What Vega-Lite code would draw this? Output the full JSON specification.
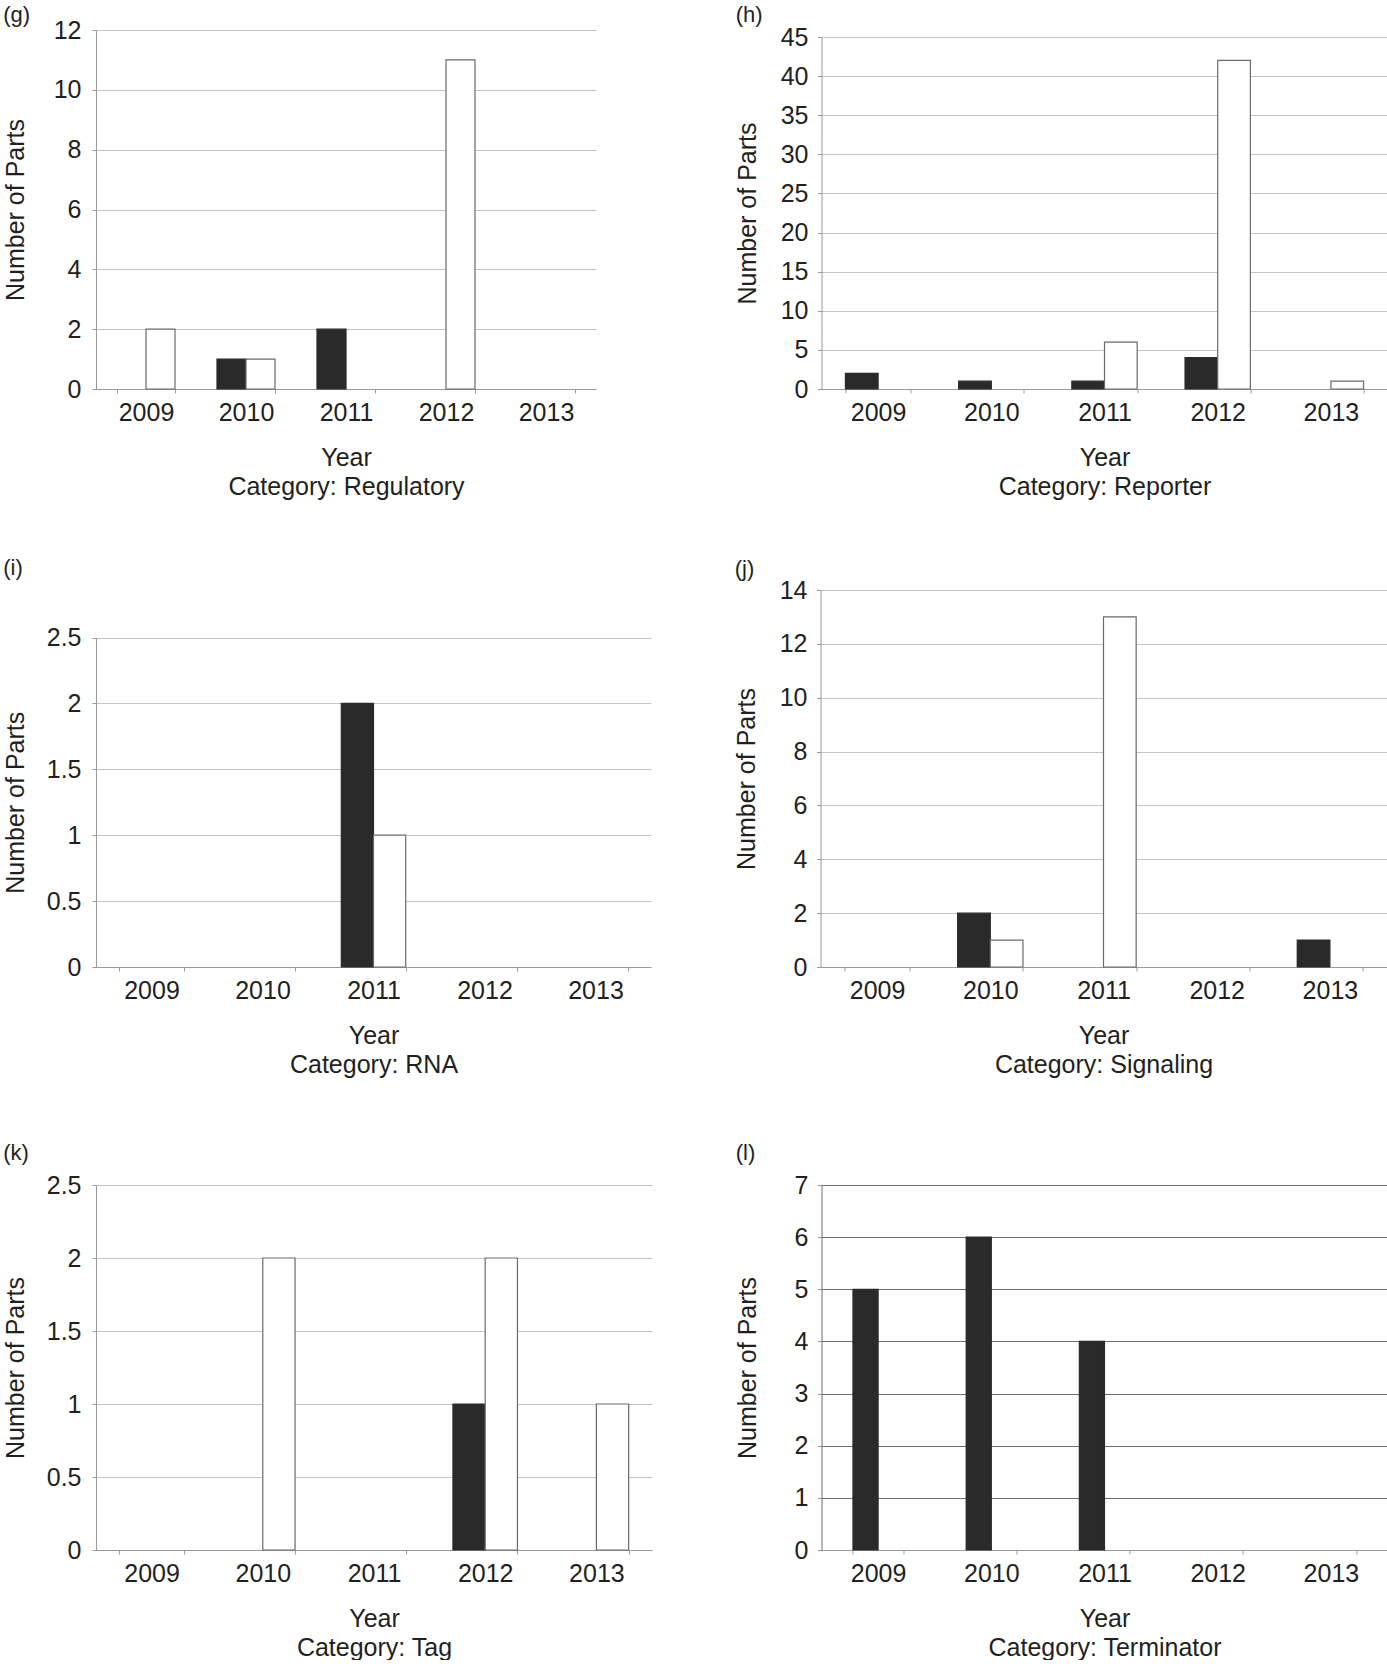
{
  "$schema": "https://vega.github.io/schema/vega-lite/v6.json",
  "description": "Number of parts per year by category, panels (g)-(l)",
  "padding": {"left": 3, "top": 3, "right": 0, "bottom": 0},
  "background": "white",
  "data": {
    "values": [
      {"category": "Regulatory", "year": "2009", "series": "Series 2", "count": 2},
      {"category": "Regulatory", "year": "2010", "series": "Series 1", "count": 1},
      {"category": "Regulatory", "year": "2010", "series": "Series 2", "count": 1},
      {"category": "Regulatory", "year": "2011", "series": "Series 1", "count": 2},
      {"category": "Regulatory", "year": "2012", "series": "Series 2", "count": 11},
      {"category": "Reporter", "year": "2009", "series": "Series 1", "count": 2},
      {"category": "Reporter", "year": "2010", "series": "Series 1", "count": 1},
      {"category": "Reporter", "year": "2011", "series": "Series 1", "count": 1},
      {"category": "Reporter", "year": "2011", "series": "Series 2", "count": 6},
      {"category": "Reporter", "year": "2012", "series": "Series 1", "count": 4},
      {"category": "Reporter", "year": "2012", "series": "Series 2", "count": 42},
      {"category": "Reporter", "year": "2013", "series": "Series 2", "count": 1},
      {"category": "RNA", "year": "2011", "series": "Series 1", "count": 2},
      {"category": "RNA", "year": "2011", "series": "Series 2", "count": 1},
      {"category": "Signaling", "year": "2010", "series": "Series 1", "count": 2},
      {"category": "Signaling", "year": "2010", "series": "Series 2", "count": 1},
      {"category": "Signaling", "year": "2011", "series": "Series 2", "count": 13},
      {"category": "Signaling", "year": "2013", "series": "Series 1", "count": 1},
      {"category": "Tag", "year": "2010", "series": "Series 2", "count": 2},
      {"category": "Tag", "year": "2012", "series": "Series 1", "count": 1},
      {"category": "Tag", "year": "2012", "series": "Series 2", "count": 2},
      {"category": "Tag", "year": "2013", "series": "Series 2", "count": 1},
      {"category": "Terminator", "year": "2009", "series": "Series 1", "count": 5},
      {"category": "Terminator", "year": "2010", "series": "Series 1", "count": 6},
      {"category": "Terminator", "year": "2011", "series": "Series 1", "count": 4}
    ]
  },
  "spacing": 64,
  "resolve": {"scale": {"x": "independent", "y": "independent", "xOffset": "independent"}, "axis": {"x": "independent", "y": "independent"}},
  "vconcat": [
    {
      "spacing": 58,
      "resolve": {"scale": {"x": "independent", "y": "independent", "xOffset": "independent"}, "axis": {"x": "independent", "y": "independent"}},
      "vconcat": [
        {
          "spacing": 139.5,
          "resolve": {"scale": {"x": "independent", "y": "independent", "xOffset": "independent"}, "axis": {"x": "independent", "y": "independent"}},
          "hconcat": [
            {
              "title": {"text": "(g)", "offset": -8.8},
              "width": 500,
              "height": 359,
              "transform": [{"filter": "datum.category == 'Regulatory'"}],
              "mark": {"type": "bar", "strokeWidth": 1.2},
              "encoding": {
                "x": {"field": "year", "type": "nominal", "scale": {"domain": ["2009", "2010", "2011", "2012", "2013"], "paddingInner": 0.42, "paddingOuter": 0.21}, "axis": {"title": ["Year", "Category: Regulatory"]}},
                "xOffset": {"field": "series", "scale": {"domain": ["Series 1", "Series 2"], "paddingInner": 0, "paddingOuter": 0}},
                "y": {"field": "count", "type": "quantitative", "scale": {"domain": [0, 12]}, "axis": {"title": "Number of Parts", "values": [0, 2, 4, 6, 8, 10, 12], "labelPadding": 11, "minExtent": 67.75, "maxExtent": 67.75}},
                "fill": {"field": "series", "scale": {"domain": ["Series 1", "Series 2"], "range": ["#2b2a2b", "#ffffff"]}, "legend": null},
                "stroke": {"field": "series", "scale": {"domain": ["Series 1", "Series 2"], "range": ["#2b2a2b", "#6a6a6a"]}, "legend": null}
              }
            },
            {
              "title": {"text": "(h)", "offset": -2.3},
              "width": 566,
              "height": 359,
              "transform": [{"filter": "datum.category == 'Reporter'"}],
              "mark": {"type": "bar", "strokeWidth": 1.2},
              "encoding": {
                "x": {"field": "year", "type": "nominal", "scale": {"domain": ["2009", "2010", "2011", "2012", "2013"], "paddingInner": 0.423, "paddingOuter": 0.2115}, "axis": {"title": ["Year", "Category: Reporter"]}},
                "xOffset": {"field": "series", "scale": {"domain": ["Series 1", "Series 2"], "paddingInner": 0, "paddingOuter": 0}},
                "y": {"field": "count", "type": "quantitative", "scale": {"domain": [0, 45], "range": [359, 7]}, "axis": {"title": "Number of Parts", "values": [0, 5, 10, 15, 20, 25, 30, 35, 40, 45], "labelPadding": 9.5, "minExtent": 60.75, "maxExtent": 60.75}},
                "fill": {"field": "series", "scale": {"domain": ["Series 1", "Series 2"], "range": ["#2b2a2b", "#ffffff"]}, "legend": null},
                "stroke": {"field": "series", "scale": {"domain": ["Series 1", "Series 2"], "range": ["#2b2a2b", "#6a6a6a"]}, "legend": null}
              }
            }
          ]
        },
        {
          "spacing": 83.5,
          "resolve": {"scale": {"x": "independent", "y": "independent", "xOffset": "independent"}, "axis": {"x": "independent", "y": "independent"}},
          "hconcat": [
            {
              "title": {"text": "(i)", "offset": 9.6},
              "width": 555,
              "height": 377,
              "transform": [{"filter": "datum.category == 'RNA'"}],
              "mark": {"type": "bar", "strokeWidth": 1.2},
              "encoding": {
                "x": {"field": "year", "type": "nominal", "scale": {"domain": ["2009", "2010", "2011", "2012", "2013"], "paddingInner": 0.42, "paddingOuter": 0.21}, "axis": {"title": ["Year", "Category: RNA"]}},
                "xOffset": {"field": "series", "scale": {"domain": ["Series 1", "Series 2"], "paddingInner": 0, "paddingOuter": 0}},
                "y": {"field": "count", "type": "quantitative", "scale": {"domain": [0, 2.5], "range": [377, 47.5]}, "axis": {"title": "Number of Parts", "values": [0, 0.5, 1, 1.5, 2, 2.5], "labelPadding": 11, "minExtent": 67.75, "maxExtent": 67.75}},
                "fill": {"field": "series", "scale": {"domain": ["Series 1", "Series 2"], "range": ["#2b2a2b", "#ffffff"]}, "legend": null},
                "stroke": {"field": "series", "scale": {"domain": ["Series 1", "Series 2"], "range": ["#2b2a2b", "#6a6a6a"]}, "legend": null}
              }
            },
            {
              "title": {"text": "(j)", "offset": -2.9},
              "width": 566,
              "height": 377,
              "transform": [{"filter": "datum.category == 'Signaling'"}],
              "mark": {"type": "bar", "strokeWidth": 1.2},
              "encoding": {
                "x": {"field": "year", "type": "nominal", "scale": {"domain": ["2009", "2010", "2011", "2012", "2013"], "paddingInner": 0.423, "paddingOuter": 0.2115}, "axis": {"title": ["Year", "Category: Signaling"]}},
                "xOffset": {"field": "series", "scale": {"domain": ["Series 1", "Series 2"], "paddingInner": 0, "paddingOuter": 0}},
                "y": {"field": "count", "type": "quantitative", "scale": {"domain": [0, 14]}, "axis": {"title": "Number of Parts", "values": [0, 2, 4, 6, 8, 10, 12, 14], "labelPadding": 9.5, "minExtent": 60.75, "maxExtent": 60.75}},
                "fill": {"field": "series", "scale": {"domain": ["Series 1", "Series 2"], "range": ["#2b2a2b", "#ffffff"]}, "legend": null},
                "stroke": {"field": "series", "scale": {"domain": ["Series 1", "Series 2"], "range": ["#2b2a2b", "#6a6a6a"]}, "legend": null}
              }
            }
          ]
        }
      ]
    },
    {
      "spacing": 83.5,
      "resolve": {"scale": {"x": "independent", "y": "independent", "xOffset": "independent"}, "axis": {"x": "independent", "y": "independent"}},
      "hconcat": [
        {
          "title": {"text": "(k)", "offset": 8.2},
          "width": 556,
          "height": 365,
          "transform": [{"filter": "datum.category == 'Tag'"}],
          "mark": {"type": "bar", "strokeWidth": 1.2},
          "encoding": {
            "x": {"field": "year", "type": "nominal", "scale": {"domain": ["2009", "2010", "2011", "2012", "2013"], "paddingInner": 0.42, "paddingOuter": 0.21}, "axis": {"title": ["Year", "Category: Tag"]}},
            "xOffset": {"field": "series", "scale": {"domain": ["Series 1", "Series 2"], "paddingInner": 0, "paddingOuter": 0}},
            "y": {"field": "count", "type": "quantitative", "scale": {"domain": [0, 2.5]}, "axis": {"title": "Number of Parts", "values": [0, 0.5, 1, 1.5, 2, 2.5], "labelPadding": 11, "minExtent": 67.75, "maxExtent": 67.75}},
            "fill": {"field": "series", "scale": {"domain": ["Series 1", "Series 2"], "range": ["#2b2a2b", "#ffffff"]}, "legend": null},
            "stroke": {"field": "series", "scale": {"domain": ["Series 1", "Series 2"], "range": ["#2b2a2b", "#6a6a6a"]}, "legend": null}
          }
        },
        {
          "title": {"text": "(l)", "offset": 8.2},
          "width": 566,
          "height": 365,
          "transform": [{"filter": "datum.category == 'Terminator'"}],
          "mark": {"type": "bar", "strokeWidth": 1.2},
          "encoding": {
            "x": {"field": "year", "type": "nominal", "scale": {"domain": ["2009", "2010", "2011", "2012", "2013"], "paddingInner": 0.556, "paddingOuter": 0.278}, "axis": {"title": ["Year", "Category: Terminator"]}},
            "xOffset": {"field": "series", "scale": {"domain": ["Series 1", "Series 2"], "paddingInner": 0, "paddingOuter": 0}},
            "y": {"field": "count", "type": "quantitative", "scale": {"domain": [0, 7]}, "axis": {"title": "Number of Parts", "values": [0, 1, 2, 3, 4, 5, 6, 7], "labelPadding": 9.5, "minExtent": 60.75, "maxExtent": 60.75, "gridColor": "#6e6e6e", "domainColor": "#6e6e6e"}},
            "fill": {"field": "series", "scale": {"domain": ["Series 1", "Series 2"], "range": ["#2b2a2b", "#ffffff"]}, "legend": null},
            "stroke": {"field": "series", "scale": {"domain": ["Series 1", "Series 2"], "range": ["#2b2a2b", "#6a6a6a"]}, "legend": null}
          }
        }
      ]
    }
  ],
  "config": {
    "font": "Liberation Sans",
    "view": {"stroke": null},
    "title": {"anchor": "start", "frame": "bounds", "fontSize": 22, "fontWeight": "normal", "color": "#231f20", "font": "Liberation Sans"},
    "axis": {
      "labelFont": "Liberation Sans",
      "labelFontSize": 25,
      "labelColor": "#231f20",
      "titleFont": "Liberation Sans",
      "titleFontSize": 25,
      "titleFontWeight": "normal",
      "titleColor": "#231f20",
      "domainColor": "#9a9a9a",
      "tickColor": "#9a9a9a",
      "gridColor": "#c4c4c4"
    },
    "axisX": {"grid": false, "labelAngle": 0, "tickBand": "extent", "tickSize": 4, "labelPadding": 7.2, "titlePadding": 19.8, "titleLineHeight": 29},
    "axisY": {"grid": true, "tickSize": 4, "titlePadding": 0, "format": "~g"}
  }
}
